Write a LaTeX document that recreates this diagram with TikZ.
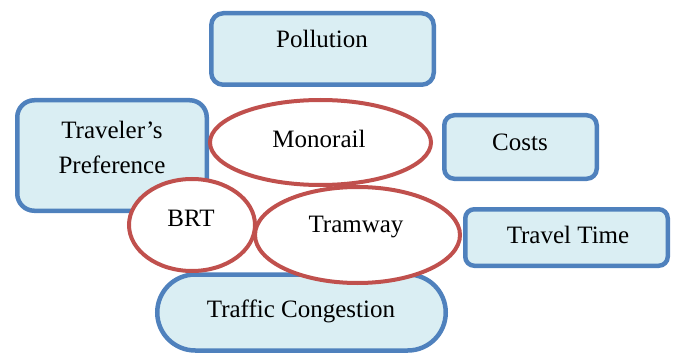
\documentclass[tikz,border=0pt]{standalone}
\usepackage{fontspec}
\setmainfont{Liberation Serif}
\usetikzlibrary{shapes.geometric}
\definecolor{bblue}{HTML}{4F81BD}
\definecolor{bfill}{HTML}{DAEEF3}
\definecolor{rred}{HTML}{C0504D}
\tikzset{
  box/.style={draw=bblue, fill=bfill, line width=4.5pt, rectangle, inner sep=0pt},
  oval/.style={draw=rred, fill=white, line width=4pt, ellipse, inner sep=0pt},
  lbl/.style={anchor=base, inner sep=0pt, font=\fontsize{25}{34}\selectfont, text=black, align=center}
}
\begin{document}
\begin{tikzpicture}[x=1pt,y=-1pt]
\useasboundingbox (0,0) rectangle (673,353);
% boxes
\node[box, rounded corners=12pt, minimum width=222.5pt, minimum height=71.5pt] (poll) at (322.5,49) {};
\node[box, rounded corners=17pt, minimum width=189.5pt, minimum height=110.5pt] (trav) at (112,155.5) {};
\node[box, rounded corners=10pt, minimum width=152.5pt, minimum height=63.5pt] (costs) at (520.5,147) {};
\node[box, rounded corners=9pt, minimum width=202.5pt, minimum height=56.5pt] (ttime) at (566.5,237.5) {};
\node[box, rounded corners=38pt, minimum width=288.5pt, minimum height=76pt] (traffic) at (301.5,312.5) {};
% ovals
\node[oval, minimum width=221pt, minimum height=85pt] (mono) at (320.5,142.5) {};
\node[oval, minimum width=126pt, minimum height=92pt] (brt) at (192,225) {};
\node[oval, minimum width=205pt, minimum height=96pt] (tram) at (357.5,235) {};
% labels
\node[lbl] (tpoll) at (322,48) {Pollution};
\node[lbl] (ttrav1) at (112,139) {Traveler’s};
\node[lbl] (ttrav2) at (112,173) {Preference};
\node[lbl] (tcosts) at (520,150) {Costs};
\node[lbl] (ttt) at (568,243) {Travel Time};
\node[lbl] (ttraf) at (301,317) {Traffic Congestion};
\node[lbl] (tmono) at (319,147) {Monorail};
\node[lbl] (tbrt) at (191,226) {BRT};
\node[lbl] (ttram) at (356,233) {Tramway};
\end{tikzpicture}
\end{document}
